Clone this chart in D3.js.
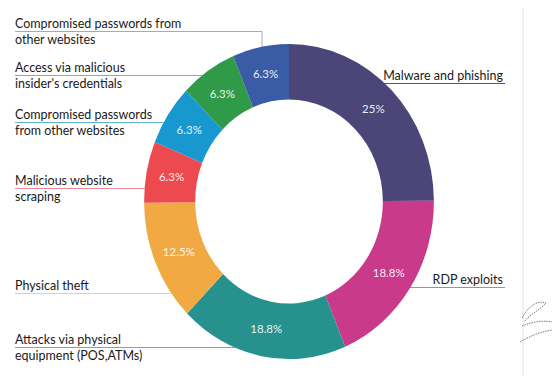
<!DOCTYPE html>
<html>
<head>
<meta charset="utf-8">
<script src="https://cdn.jsdelivr.net/npm/d3@7"></script>
<style>
  body { margin: 0; background: #fff; }
  svg text { font-family: Lato, "Open Sans", sans-serif; }
</style>
</head>
<body>
<svg id="chart" width="553" height="376"></svg>
<script>
// data, clockwise from 12 o'clock
const categories = [
  "Malware and phishing",
  "RDP exploits",
  "Attacks via physical equipment (POS,ATMs)",
  "Physical theft",
  "Malicious website scraping",
  "Compromised passwords from other websites",
  "Access via malicious insider's credentials",
  "Compromised passwords from other websites",
];
const values = [25, 18.8, 18.8, 12.5, 6.3, 6.3, 6.3, 6.3];
const valueLabels = ["25%", "18.8%", "18.8%", "12.5%", "6.3%", "6.3%", "6.3%", "6.3%"];
// how each category name is broken over lines in the legend text
const labelLines = [
  ["Malware and phishing"],
  ["RDP exploits"],
  ["Attacks via physical", "equipment (POS,ATMs)"],
  ["Physical theft"],
  ["Malicious website", "scraping"],
  ["Compromised passwords", "from other websites"],
  ["Access via malicious", "insider's credentials"],
  ["Compromised passwords from", "other websites"],
];

const colors = ["#4b4677", "#c93a8a", "#27918d", "#f1a944", "#ec4a4e", "#1798cf", "#2f9b48", "#3a5ba6"];
const leaderColors = ["#555560", "#d672aa", "#5cb3b2", "#ead08a", "#eb8a9a", "#5db4cc", "#74b98c", "#a4a7c8"];

// label layout: side and first baseline
const labelLayout = [
  { side: "right", y: 80 },
  { side: "right", y: 284 },
  { side: "left", y: 344 },
  { side: "left", y: 290 },
  { side: "left", y: 185 },
  { side: "left", y: 119 },
  { side: "left", y: 72 },
  { side: "left", y: 28, elbow: true },
];

const svg = d3.select("#chart");
const cx = 289, cy = 201.5, sx = 0.92;
const outerR = 157.5, innerR = 102;

const pie = d3.pie().sort(null).value((d) => d);
const arcs = pie(values);
const arc = d3.arc().innerRadius(innerR).outerRadius(outerR);
const labelArc = d3.arc().innerRadius(130).outerRadius(130);

// separator on the right
svg.append("line")
  .attr("x1", 523).attr("x2", 523)
  .attr("y1", 8).attr("y2", 376)
  .attr("stroke", "#ececec")
  .attr("stroke-width", 1.5);

// outer edge x of the (slightly squeezed) ring at a given y
const edgeX = (y, side) => {
  const dy = y - cy;
  const dx = Math.sqrt(Math.max(outerR * outerR - dy * dy, 0)) * sx;
  return side === "left" ? cx - dx : cx + dx;
};

// leader lines
labelLayout.forEach((l, i) => {
  const ly = l.y + 3.5;
  if (l.elbow) {
    const ex = 262;
    const ey = cy - Math.sqrt(outerR * outerR - Math.pow((ex - cx) / sx, 2)) + 2;
    svg.append("path")
      .attr("d", `M15,${ly}H${ex}V${ey}`)
      .attr("fill", "none")
      .attr("stroke", leaderColors[i])
      .attr("stroke-width", 1);
  } else if (l.side === "left") {
    svg.append("line")
      .attr("x1", 15).attr("x2", edgeX(ly, "left"))
      .attr("y1", ly).attr("y2", ly)
      .attr("stroke", leaderColors[i])
      .attr("stroke-width", 1);
  } else {
    svg.append("line")
      .attr("x1", edgeX(ly, "right") - 2).attr("x2", 505)
      .attr("y1", ly).attr("y2", ly)
      .attr("stroke", leaderColors[i])
      .attr("stroke-width", 1);
  }
});

// ring
svg.append("g")
  .attr("transform", `translate(${cx},${cy}) scale(${sx},1)`)
  .selectAll("path")
  .data(arcs)
  .enter()
  .append("path")
  .attr("d", arc)
  .attr("fill", (d, i) => colors[i]);

// percentages
svg.append("g")
  .attr("transform", `translate(${cx},${cy})`)
  .selectAll("text")
  .data(arcs)
  .enter()
  .append("text")
  .attr("x", (d) => labelArc.centroid(d)[0] * sx)
  .attr("y", (d) => labelArc.centroid(d)[1] + 4)
  .attr("text-anchor", "middle")
  .attr("fill", "#fff")
  .attr("fill-opacity", 0.92)
  .style("font-size", "11.5px")
  .text((d, i) => valueLabels[i]);

// category labels
labelLayout.forEach((l, i) => {
  const t = svg.append("text")
    .attr("fill", "#1a1a1a")
    .style("font-size", "12.5px")
    .attr("text-anchor", l.side === "left" ? "start" : "end");
  labelLines[i].forEach((s, j) => {
    t.append("tspan")
      .attr("x", l.side === "left" ? 15 : 503)
      .attr("y", l.y + j * 16)
      .text(s);
  });
});

// small scribble near the bottom right
svg.append("path")
  .attr("d", "M522,318 C528,306 538,300 546,303 C540,310 530,314 524,322 M522,326 C532,322 542,320 552,322 M520,342 C530,336 540,332 552,330")
  .attr("fill", "none")
  .attr("stroke", "#555")
  .attr("stroke-width", 0.8)
  .attr("stroke-dasharray", "1.5,1");
</script>
</body>
</html>
